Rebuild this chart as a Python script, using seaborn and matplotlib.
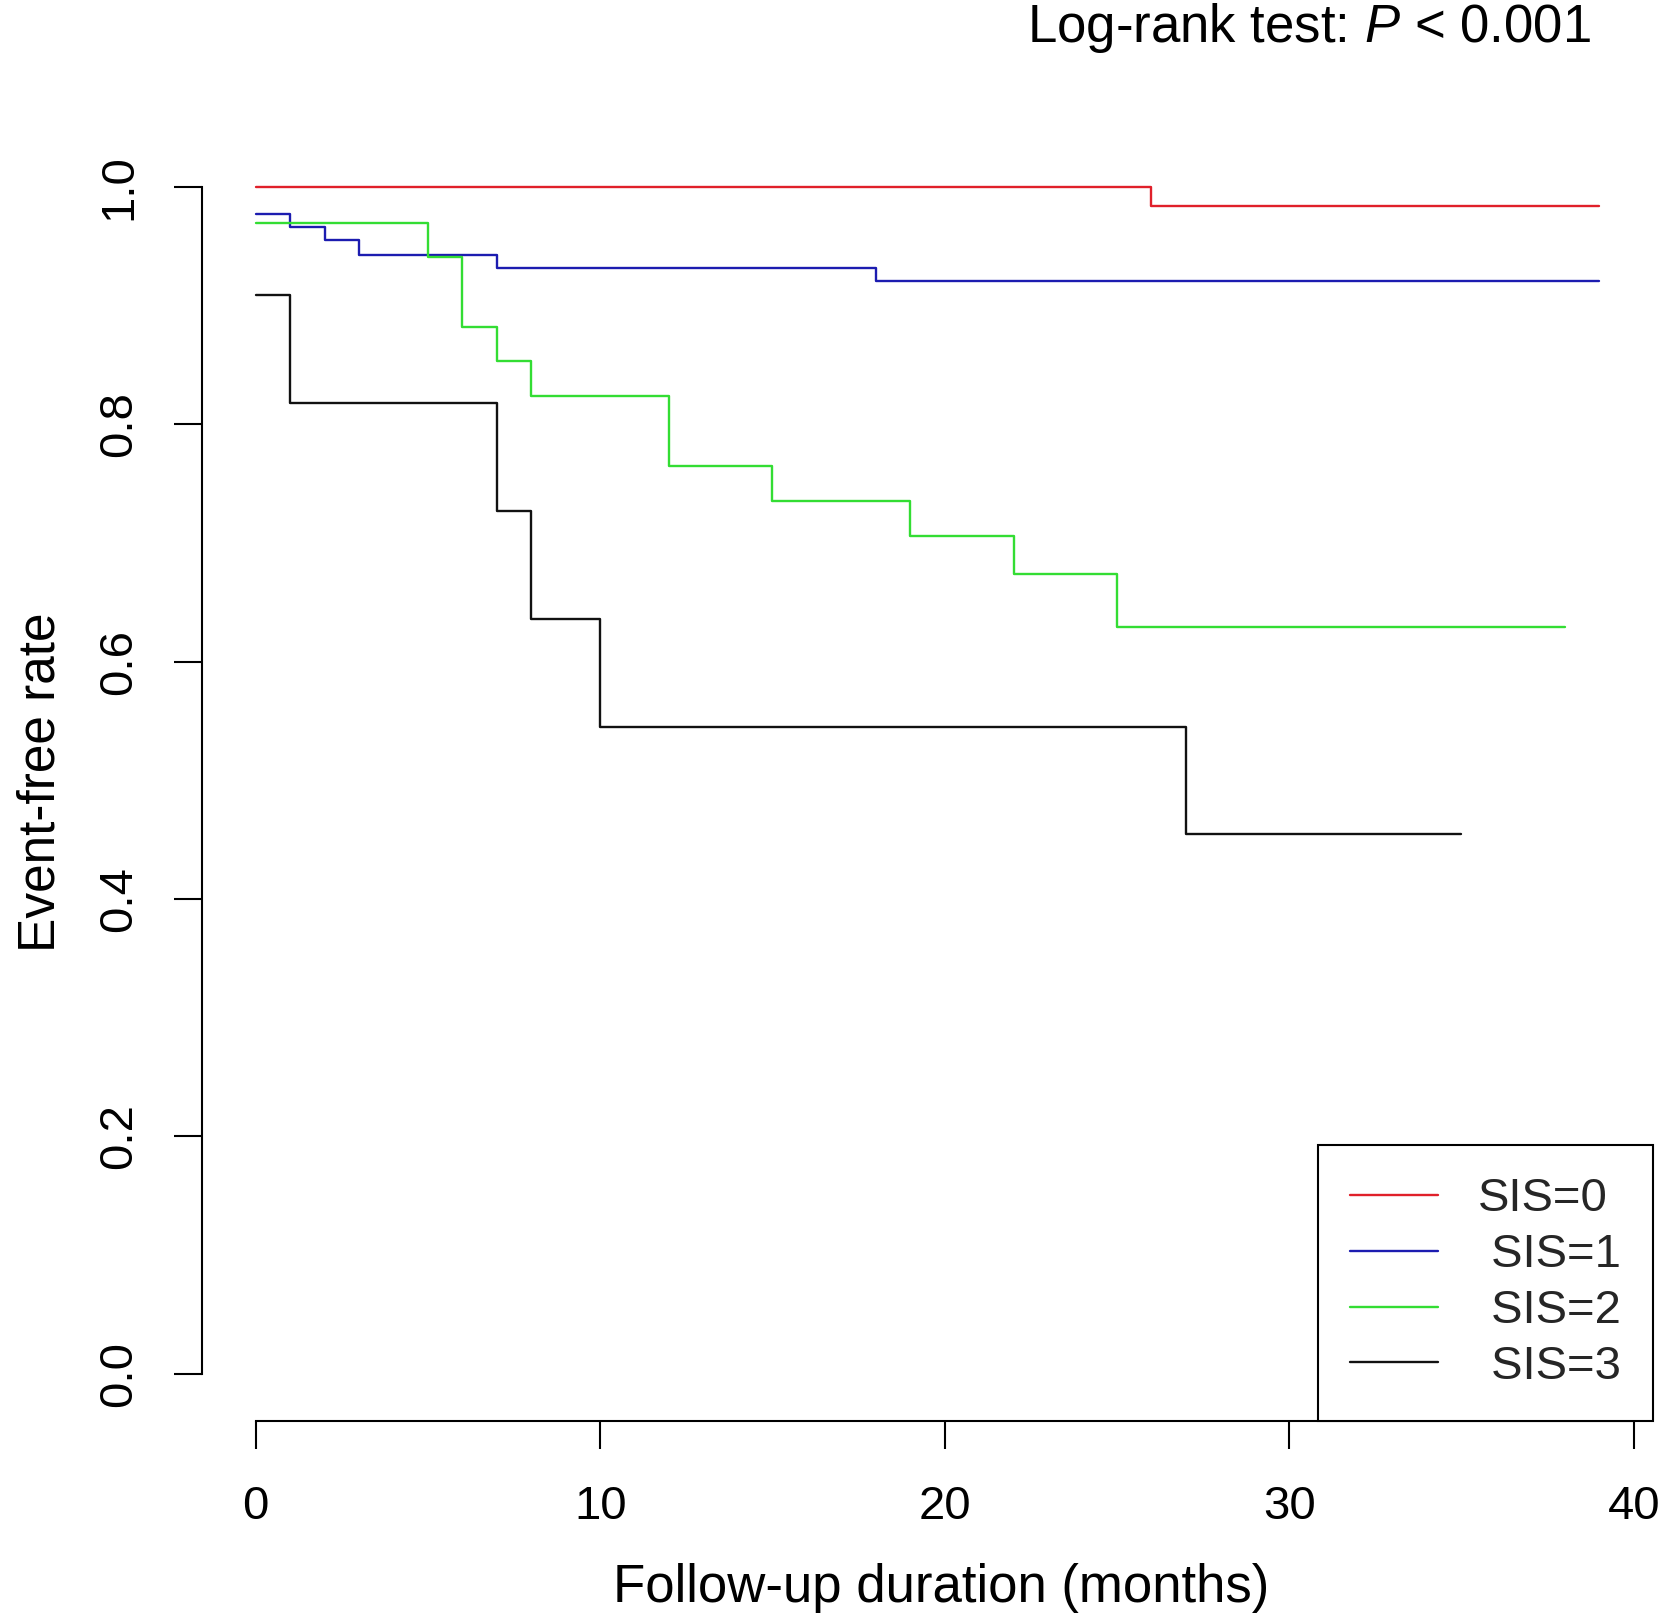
import pandas as pd
import seaborn as sns
import matplotlib
matplotlib.use("Agg")
import matplotlib.pyplot as plt

# Kaplan-Meier step values (time in months, event-free rate)
groups = ["SIS=0", " SIS=1", " SIS=2", " SIS=3"]
colores = ["#E0202A", "#1C1CB0", "#33DD33", "#111111"]

t_sis0 = [0, 26, 39]
s_sis0 = [1.000, 0.984, 0.984]

t_sis1 = [0, 1, 2, 3, 7, 18, 39]
s_sis1 = [0.977, 0.966, 0.955, 0.943, 0.932, 0.921, 0.921]

t_sis2 = [0, 5, 6, 7, 8, 12, 15, 19, 22, 25, 38]
s_sis2 = [0.970, 0.941, 0.882, 0.853, 0.824, 0.765, 0.735, 0.706, 0.674, 0.629, 0.629]

t_sis3 = [0, 1, 7, 8, 10, 27, 35]
s_sis3 = [0.909, 0.818, 0.727, 0.636, 0.545, 0.455, 0.455]

x_ticks = [0, 10, 20, 30, 40]
y_ticks = [0.0, 0.2, 0.4, 0.6, 0.8, 1.0]

# armamos un dataframe largo para seaborn
tiempos = [t_sis0, t_sis1, t_sis2, t_sis3]
surv = [s_sis0, s_sis1, s_sis2, s_sis3]
filas = []
for g, tt, ss in zip(groups, tiempos, surv):
    for t, s in zip(tt, ss):
        filas.append({"group": g, "time": t, "surv": s})
df = pd.DataFrame(filas)

sns.set_style("white")
plt.rcParams["font.family"] = ["Liberation Sans", "DejaVu Sans"]
plt.rcParams["mathtext.fontset"] = "custom"
plt.rcParams["mathtext.rm"] = "Liberation Sans"
plt.rcParams["mathtext.it"] = "Liberation Sans:italic"

W, H = 1667, 1620
fig = plt.figure(figsize=(W / 100, H / 100), dpi=100)
# plot region like R: left 202, right 1653, top 139.6, bottom 1421 (pixels)
ax = fig.add_axes([202 / W, 1 - 1421 / H, (1653 - 202) / W, (1421 - 139.6) / H])

sns.lineplot(data=df, x="time", y="surv", hue="group", palette=colores,
             hue_order=groups, estimator=None, sort=False,
             drawstyle="steps-post", linewidth=1.7, ax=ax)

ax.set_xlim(-1.56, 40.56)
ax.set_ylim(-0.04, 1.04)
ax.set_xticks(x_ticks)
ax.set_xticklabels([str(v) for v in x_ticks])
ax.set_yticks(y_ticks)
ax.set_yticklabels([f"{v:.1f}" for v in y_ticks], rotation=90, va="center")

for lado in ["top", "right"]:
    ax.spines[lado].set_visible(False)
ax.spines["left"].set_bounds(0, 1)
ax.spines["bottom"].set_bounds(0, 40)
for lado in ["left", "bottom"]:
    ax.spines[lado].set_color("black")
    ax.spines[lado].set_linewidth(1.5)

ax.tick_params(axis="both", direction="out", length=20, width=1.5,
               color="black", labelsize=34, labelcolor="black",
               left=True, bottom=True)
ax.tick_params(axis="x", pad=26)
ax.tick_params(axis="y", pad=24)

ax.set_xlabel("Follow-up duration (months)", fontsize=38, color="black")
ax.set_ylabel("Event-free rate", fontsize=37, color="black")
ax.xaxis.set_label_coords((941 - 202) / 1451, (1421 - 1563) / 1281.4)
ax.yaxis.set_label_coords((66 - 202) / 1451, (1421 - 782.5) / 1281.4)

leg = ax.legend(loc="lower right", bbox_to_anchor=(1, 0), borderaxespad=0,
                fontsize=34, handlelength=1.85, handletextpad=0.85,
                borderpad=0.68, labelspacing=0.25, fancybox=False,
                framealpha=1, edgecolor="black", title=None)
leg.get_frame().set_linewidth(1.5)
for linea in leg.get_lines():
    linea.set_linewidth(1.7)

fig.text(1591 / W, 1 - 41.7 / H, r"Log-rank test: $\it{P}$ < 0.001",
         ha="right", va="baseline", fontsize=38, color="black")

fig.savefig("out.png", dpi=100)
